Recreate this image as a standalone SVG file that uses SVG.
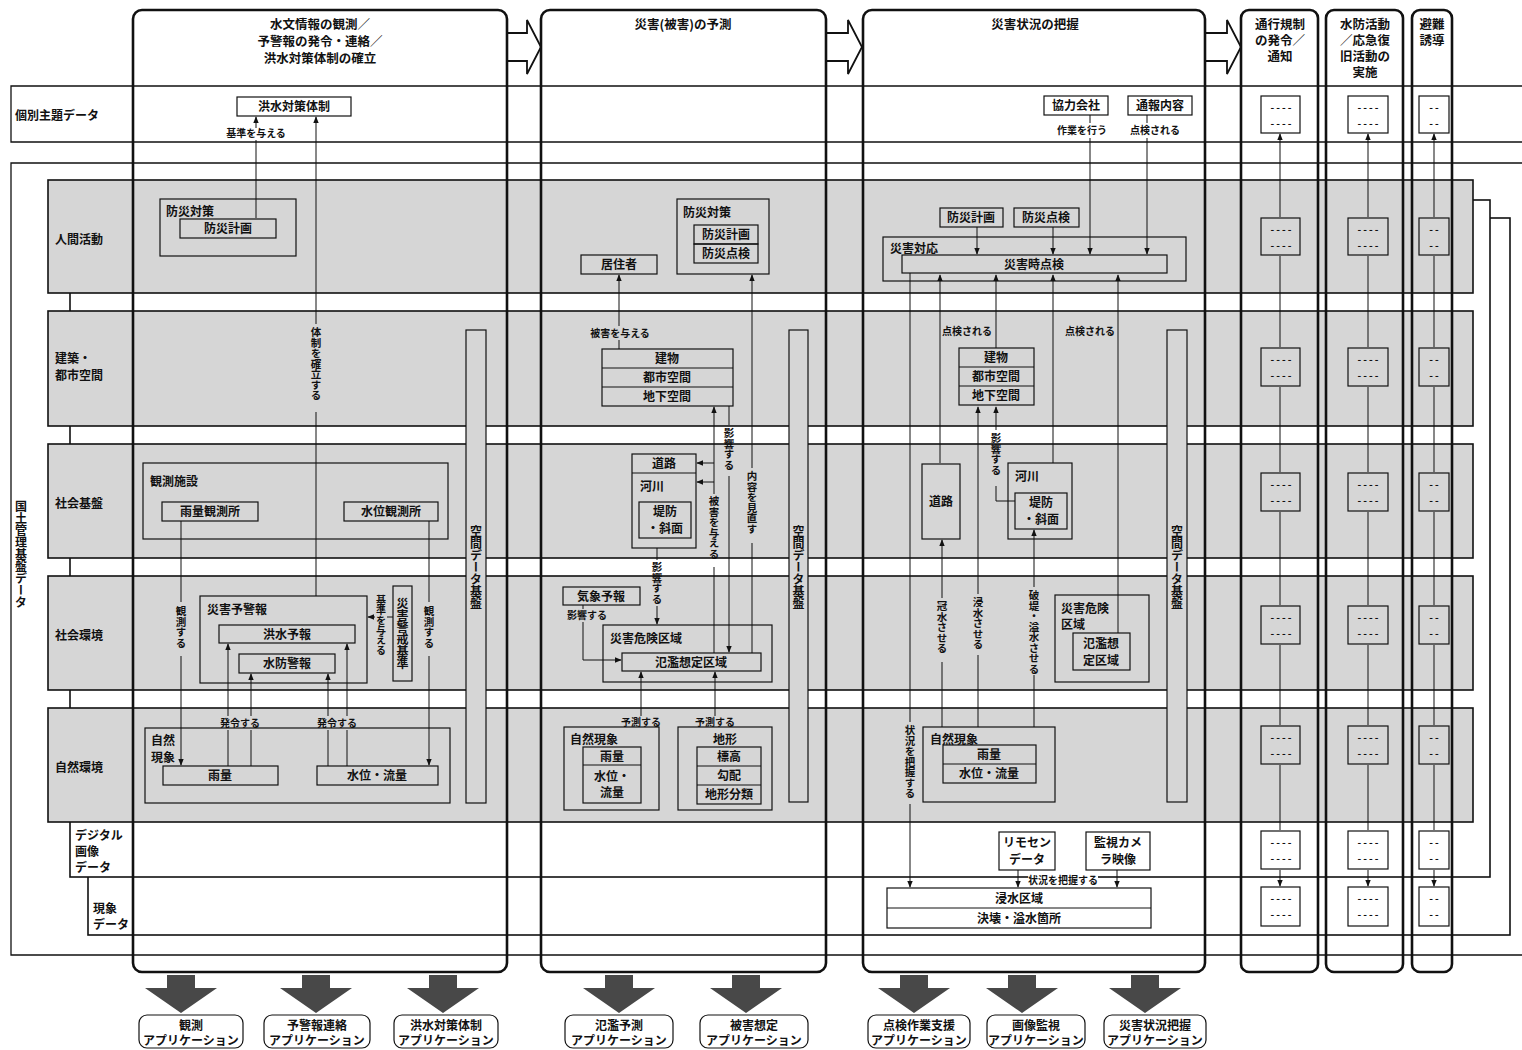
<svg xmlns="http://www.w3.org/2000/svg" width="1522" height="1050" viewBox="0 0 1522 1050">
<defs>
<marker id="ah" viewBox="0 0 10 10" refX="9" refY="5" markerWidth="7" markerHeight="7" orient="auto-start-reverse" markerUnits="userSpaceOnUse">
<path d="M0,1 L10,5 L0,9 Z" fill="#111"/>
</marker>
<style>
text{font-family:"Noto Sans CJK JP","Noto Sans CJK SC",sans-serif;font-weight:700;fill:#111;}
.t{font-size:12px;text-anchor:middle}
.l{font-size:10px;text-anchor:middle}
.s{font-size:12px}
.h{font-size:12.5px;text-anchor:middle}
.v{writing-mode:vertical-rl;font-size:10.5px}
.vb{writing-mode:vertical-rl;font-size:12px}
.d{font-size:10px;text-anchor:middle;letter-spacing:2px}
.box{fill:none;stroke:#111;stroke-width:1.2}
.wbox{fill:#fff;stroke:#111;stroke-width:1.2}
.band{fill:#d6d6d6;stroke:#111;stroke-width:1.6}
.col{fill:none;stroke:#111;stroke-width:2.6}
.frame{fill:none;stroke:#111;stroke-width:1.3}
.layer{fill:#fff;stroke:#111;stroke-width:1.6}
.sdi{fill:#d6d6d6;stroke:#111;stroke-width:1.2}
.c{fill:none;stroke:#111;stroke-width:1}
.a{marker-end:url(#ah)}
.aa{marker-start:url(#ah);marker-end:url(#ah)}
.big{fill:#fff;stroke:#111;stroke-width:1.8}
.app{fill:#484848}
</style>
</defs>
<rect x="0" y="0" width="1522" height="1050" fill="#fff"/>

<!-- frame lines -->
<g id="frames">
<path class="frame" d="M1522,86 H11 V142 H1522"/>
<path class="frame" d="M1522,163 H11 V955 H1522"/>
<rect class="layer" x="88" y="218" width="1422" height="717"/>
<rect class="layer" x="70" y="200" width="1420" height="677"/>
<rect class="band" x="48" y="180" width="1425" height="113"/>
<rect class="band" x="48" y="311" width="1425" height="115"/>
<rect class="band" x="48" y="444" width="1425" height="114"/>
<rect class="band" x="48" y="576" width="1425" height="114"/>
<rect class="band" x="48" y="708" width="1425" height="114"/>
</g>

<g id="row-labels">
<text class="s" x="15" y="120">個別主題データ</text>
<text class="s" x="55" y="244">人間活動</text>
<text class="s" x="55" y="363">建築・</text>
<text class="s" x="55" y="380">都市空間</text>
<text class="s" x="55" y="508">社会基盤</text>
<text class="s" x="55" y="640">社会環境</text>
<text class="s" x="55" y="772">自然環境</text>
<text class="s" x="75" y="840">デジタル</text>
<text class="s" x="75" y="856">画像</text>
<text class="s" x="75" y="872">データ</text>
<text class="s" x="93" y="913">現象</text>
<text class="s" x="93" y="929">データ</text>
<text class="vb" x="21" y="500">国土管理基盤データ</text>
</g>

<!-- header arrows -->
<g id="phase-arrows">
<polygon class="big" points="507,33 527,33 527,20 541,47 527,74 527,61 507,61"/>
<polygon class="big" points="826,33 848,33 848,20 862,47 848,74 848,61 826,61"/>
<polygon class="big" points="1205,33 1227,33 1227,20 1241,47 1227,74 1227,61 1205,61"/>
</g>

<!-- Column 1 -->
<g id="c1-kozui-taisei"><rect class="box" x="237" y="97" width="114" height="19"/><text class="t" x="294" y="111">洪水対策体制</text></g>
<g id="c1-bousai-taisaku"><rect class="box" x="160" y="199" width="136" height="57"/><text class="s" x="166" y="216">防災対策</text><rect class="box" x="180" y="219" width="96" height="19"/><text class="t" x="228" y="233">防災計画</text></g>
<g id="c1-kansoku-shisetsu"><rect class="box" x="143" y="463" width="305" height="76"/><text class="s" x="150" y="486">観測施設</text>
<rect class="box" x="162" y="502" width="96" height="19"/><text class="t" x="210" y="516">雨量観測所</text>
<rect class="box" x="344" y="502" width="94" height="19"/><text class="t" x="391" y="516">水位観測所</text></g>
<g id="c1-saigai-yokeiho"><rect class="box" x="200" y="596" width="167" height="87"/><text class="s" x="207" y="614">災害予警報</text>
<rect class="box" x="219" y="625" width="136" height="18"/><text class="t" x="287" y="639">洪水予報</text>
<rect class="box" x="239" y="654" width="96" height="19"/><text class="t" x="287" y="668">水防警報</text></g>
<g id="c1-keikai-kijun"><rect class="box" x="393" y="586" width="19" height="95"/><text class="vb" x="402.5" y="597">災害警戒基準</text></g>
<g id="c1-shizen-gensho"><rect class="box" x="145" y="728" width="305" height="75"/><text class="s" x="151" y="745">自然</text><text class="s" x="151" y="762">現象</text>
<rect class="box" x="163" y="766" width="115" height="19"/><text class="t" x="220" y="780">雨量</text>
<rect class="box" x="317" y="766" width="121" height="19"/><text class="t" x="377" y="780">水位・流量</text></g>
<g id="c1-sdi"><rect class="sdi" x="466" y="330" width="20" height="473"/><text class="vb" x="476" y="525">空間データ基盤</text></g>

<!-- Column 2 -->
<g id="c2-bousai-taisaku"><rect class="box" x="677" y="199" width="92" height="75"/><text class="s" x="683" y="217">防災対策</text>
<rect class="box" x="694" y="225" width="64" height="19"/><text class="t" x="726" y="239">防災計画</text>
<rect class="box" x="694" y="244" width="64" height="19"/><text class="t" x="726" y="258">防災点検</text></g>
<g id="c2-kyojusha"><rect class="box" x="581" y="255" width="76" height="19"/><text class="t" x="619" y="269">居住者</text></g>
<g id="c2-tatemono"><rect class="box" x="602" y="349" width="131" height="57"/><path class="c" d="M602,368 H733 M602,387 H733"/>
<text class="t" x="667" y="363">建物</text><text class="t" x="667" y="382">都市空間</text><text class="t" x="667" y="401">地下空間</text></g>
<g id="c2-doro-kasen"><rect class="box" x="632" y="454" width="64" height="94"/><path class="c" d="M632,473 H696"/>
<text class="t" x="664" y="468">道路</text><text class="s" x="640" y="491">河川</text>
<rect class="box" x="639" y="502" width="52" height="36"/><text class="t" x="665" y="516">堤防</text><text class="t" x="665" y="533">・斜面</text></g>
<g id="c2-kisho-yoho"><rect class="box" x="563" y="587" width="77" height="18"/><text class="t" x="601" y="601">気象予報</text></g>
<g id="c2-kiken-kuiki"><rect class="box" x="603" y="625" width="169" height="57"/><text class="s" x="610" y="643">災害危険区域</text>
<rect class="box" x="622" y="653" width="139" height="18"/><text class="t" x="691" y="667">氾濫想定区域</text></g>
<g id="c2-shizen-gensho"><rect class="box" x="564" y="727" width="95" height="83"/><text class="s" x="570" y="744">自然現象</text>
<rect class="box" x="583" y="747" width="58" height="56"/><path class="c" d="M583,765 H641"/>
<text class="t" x="612" y="761">雨量</text><text class="t" x="612" y="781">水位・</text><text class="t" x="612" y="797">流量</text></g>
<g id="c2-chikei"><rect class="box" x="678" y="727" width="94" height="83"/><text class="t" x="725" y="744">地形</text>
<rect class="box" x="697" y="747" width="64" height="57"/><path class="c" d="M697,766 H761 M697,785 H761"/>
<text class="t" x="729" y="761">標高</text><text class="t" x="729" y="780">勾配</text><text class="t" x="729" y="799">地形分類</text></g>
<g id="c2-sdi"><rect class="sdi" x="789" y="330" width="19" height="472"/><text class="vb" x="798.5" y="525">空間データ基盤</text></g>

<!-- Column 3 -->
<g id="c3-kyoryoku"><rect class="box" x="1044" y="96" width="64" height="19"/><text class="t" x="1076" y="110">協力会社</text></g>
<g id="c3-tsuho"><rect class="box" x="1128" y="96" width="64" height="19"/><text class="t" x="1160" y="110">通報内容</text></g>
<g id="c3-bousai-keikaku"><rect class="box" x="940" y="208" width="63" height="19"/><text class="t" x="971" y="222">防災計画</text></g>
<g id="c3-bousai-tenken"><rect class="box" x="1014" y="208" width="65" height="19"/><text class="t" x="1046" y="222">防災点検</text></g>
<g id="c3-saigai-taio"><rect class="box" x="883" y="237" width="303" height="44"/><text class="s" x="890" y="253">災害対応</text>
<rect class="box" x="902" y="255" width="265" height="18"/><text class="t" x="1034" y="269">災害時点検</text></g>
<g id="c3-tatemono"><rect class="box" x="959" y="348" width="75" height="57"/><path class="c" d="M959,367 H1034 M959,386 H1034"/>
<text class="t" x="996" y="362">建物</text><text class="t" x="996" y="381">都市空間</text><text class="t" x="996" y="400">地下空間</text></g>
<g id="c3-doro"><rect class="box" x="922" y="464" width="38" height="75"/><text class="t" x="941" y="506">道路</text></g>
<g id="c3-kasen"><rect class="box" x="1008" y="463" width="64" height="76"/><text class="s" x="1015" y="481">河川</text>
<rect class="box" x="1015" y="493" width="52" height="36"/><text class="t" x="1041" y="507">堤防</text><text class="t" x="1041" y="524">・斜面</text></g>
<g id="c3-kiken-kuiki"><rect class="box" x="1055" y="595" width="94" height="87"/><text class="s" x="1061" y="613">災害危険</text><text class="s" x="1061" y="629">区域</text>
<rect class="box" x="1073" y="633" width="57" height="37"/><text class="t" x="1101" y="648">氾濫想</text><text class="t" x="1101" y="665">定区域</text></g>
<g id="c3-shizen-gensho"><rect class="box" x="923" y="727" width="132" height="75"/><text class="s" x="930" y="744">自然現象</text>
<rect class="box" x="943" y="745" width="93" height="38"/><path class="c" d="M943,764 H1036"/>
<text class="t" x="989" y="759">雨量</text><text class="t" x="989" y="778">水位・流量</text></g>
<g id="c3-sdi"><rect class="sdi" x="1167" y="330" width="20" height="472"/><text class="vb" x="1177" y="525">空間データ基盤</text></g>
<g id="c3-rimosen"><rect class="box" x="999" y="832" width="56" height="38"/><text class="t" x="1027" y="847">リモセン</text><text class="t" x="1027" y="864">データ</text></g>
<g id="c3-kanshi"><rect class="box" x="1086" y="832" width="64" height="38"/><text class="t" x="1118" y="847">監視カメ</text><text class="t" x="1118" y="864">ラ映像</text></g>
<g id="c3-shinsui"><rect class="box" x="887" y="888" width="264" height="40"/><path class="c" d="M887,908 H1151"/>
<text class="t" x="1019" y="903">浸水区域</text><text class="t" x="1019" y="923">決壊・溢水箇所</text></g>

<!-- Columns 4-6 placeholder boxes -->
<g id="c4-boxes">
<rect class="box" x="1261" y="96" width="39" height="37"/><text class="d" x="1282" y="111">----</text><text class="d" x="1282" y="127">----</text>
<rect class="box" x="1261" y="218" width="39" height="37"/><text class="d" x="1282" y="233">----</text><text class="d" x="1282" y="249">----</text>
<rect class="box" x="1261" y="348" width="39" height="38"/><text class="d" x="1282" y="363">----</text><text class="d" x="1282" y="379">----</text>
<rect class="box" x="1261" y="473" width="39" height="38"/><text class="d" x="1282" y="488">----</text><text class="d" x="1282" y="504">----</text>
<rect class="box" x="1261" y="606" width="39" height="38"/><text class="d" x="1282" y="621">----</text><text class="d" x="1282" y="637">----</text>
<rect class="box" x="1261" y="726" width="39" height="38"/><text class="d" x="1282" y="741">----</text><text class="d" x="1282" y="757">----</text>
<rect class="box" x="1261" y="831" width="39" height="38"/><text class="d" x="1282" y="846">----</text><text class="d" x="1282" y="862">----</text>
<rect class="box" x="1261" y="887" width="39" height="39"/><text class="d" x="1282" y="902">----</text><text class="d" x="1282" y="918">----</text>
</g>
<g id="c5-boxes">
<rect class="box" x="1348" y="96" width="40" height="37"/><text class="d" x="1369" y="111">----</text><text class="d" x="1369" y="127">----</text>
<rect class="box" x="1348" y="218" width="40" height="37"/><text class="d" x="1369" y="233">----</text><text class="d" x="1369" y="249">----</text>
<rect class="box" x="1348" y="348" width="40" height="38"/><text class="d" x="1369" y="363">----</text><text class="d" x="1369" y="379">----</text>
<rect class="box" x="1348" y="473" width="40" height="38"/><text class="d" x="1369" y="488">----</text><text class="d" x="1369" y="504">----</text>
<rect class="box" x="1348" y="606" width="40" height="38"/><text class="d" x="1369" y="621">----</text><text class="d" x="1369" y="637">----</text>
<rect class="box" x="1348" y="726" width="40" height="38"/><text class="d" x="1369" y="741">----</text><text class="d" x="1369" y="757">----</text>
<rect class="box" x="1348" y="831" width="40" height="38"/><text class="d" x="1369" y="846">----</text><text class="d" x="1369" y="862">----</text>
<rect class="box" x="1348" y="887" width="40" height="39"/><text class="d" x="1369" y="902">----</text><text class="d" x="1369" y="918">----</text>
</g>
<g id="c6-boxes">
<rect class="box" x="1419" y="96" width="30" height="37"/><text class="d" x="1435" y="111">--</text><text class="d" x="1435" y="127">--</text>
<rect class="box" x="1419" y="218" width="30" height="37"/><text class="d" x="1435" y="233">--</text><text class="d" x="1435" y="249">--</text>
<rect class="box" x="1419" y="348" width="30" height="38"/><text class="d" x="1435" y="363">--</text><text class="d" x="1435" y="379">--</text>
<rect class="box" x="1419" y="473" width="30" height="38"/><text class="d" x="1435" y="488">--</text><text class="d" x="1435" y="504">--</text>
<rect class="box" x="1419" y="606" width="30" height="38"/><text class="d" x="1435" y="621">--</text><text class="d" x="1435" y="637">--</text>
<rect class="box" x="1419" y="726" width="30" height="38"/><text class="d" x="1435" y="741">--</text><text class="d" x="1435" y="757">--</text>
<rect class="box" x="1419" y="831" width="30" height="38"/><text class="d" x="1435" y="846">--</text><text class="d" x="1435" y="862">--</text>
<rect class="box" x="1419" y="887" width="30" height="39"/><text class="d" x="1435" y="902">--</text><text class="d" x="1435" y="918">--</text>
</g>

<!-- Connectors -->
<g id="connectors">
<!-- col1 -->
<path class="c" d="M256,218 V140"/><path class="c a" d="M256,128 V117"/>
<text class="l" x="256" y="137">基準を与える</text>
<path class="c" d="M316,596 V412"/><path class="c a" d="M316,324 V117"/>
<text class="v" x="316" y="327">体制を確立する</text>
<path class="c" d="M181,521 V602"/><path class="c a" d="M181,656 V765"/>
<text class="v" x="181" y="606">観測する</text>
<path class="c" d="M429,521 V602"/><path class="c a" d="M429,656 V765"/>
<text class="v" x="429" y="606">観測する</text>
<path class="c" d="M228,766 V730"/><path class="c a" d="M228,716 V644"/>
<path class="c" d="M251,766 V730"/><path class="c a" d="M251,716 V674"/>
<path class="c" d="M328,766 V730"/><path class="c a" d="M328,716 V674"/>
<path class="c" d="M347,766 V730"/><path class="c a" d="M347,716 V644"/>
<text class="l" x="240" y="727">発令する</text>
<text class="l" x="337" y="727">発令する</text>
<path class="c" d="M393,617 H387"/><path class="c a" d="M375,617 H368"/>
<text class="v" x="381" y="595" style="font-size:10px">基準を与える</text>
<!-- col2 -->
<path class="c" d="M619,349 V340"/><path class="c a" d="M619,326 V275"/>
<text class="l" x="620" y="337">被害を与える</text>
<path class="c" d="M752,653 V543"/><path class="c a" d="M752,468 V275"/>
<text class="v" x="752" y="471">内容を見直す</text>
<path class="c" d="M714,653 V567"/><path class="c a" d="M714,494 V407"/>
<path class="c a" d="M714,463 H697"/><path class="c a" d="M714,482 H697"/>
<text class="v" x="714" y="496">被害を与える</text>
<path class="c" d="M729,406 V425"/><path class="c a" d="M729,476 V652"/>
<text class="v" x="729" y="428">影響する</text>
<path class="c" d="M657,548 V560"/><path class="c a" d="M657,606 V624"/>
<text class="v" x="657" y="562">影響する</text>
<path class="c" d="M583,605 V609"/><path class="c a" d="M583,622 V660 H621"/>
<text class="l" x="587" y="619">影響する</text>
<path class="c a" d="M641,716 V672"/>
<text class="l" x="641" y="726">予測する</text>
<path class="c a" d="M715,716 V672"/>
<text class="l" x="715" y="726">予測する</text>
<!-- col3 -->
<path class="c a" d="M977,227 V254"/>
<path class="c a" d="M1053,227 V254"/>
<path class="c" d="M1090,115 V123"/><path class="c a" d="M1090,138 V254"/>
<text class="l" x="1082" y="134">作業を行う</text>
<path class="c" d="M1147,115 V123"/><path class="c a" d="M1147,138 V254"/>
<text class="l" x="1155" y="134">点検される</text>
<path class="c" d="M910,273 V722"/><path class="c a" d="M910,804 V887"/>
<text class="v" x="910" y="725">状況を把握する</text>
<path class="c a" d="M940,463 V275"/>
<text class="l" x="967" y="335">点検される</text>
<path class="c a" d="M996,348 V275"/>
<path class="c a" d="M1053,463 V275"/>
<path class="c a" d="M1118,633 V275"/>
<text class="l" x="1090" y="335">点検される</text>
<path class="c" d="M978,727 V655"/><path class="c a" d="M978,594 V407"/>
<text class="v" x="978" y="597">浸水させる</text>
<path class="c" d="M1015,501 H996 V486"/><path class="c a" d="M996,430 V407"/>
<text class="v" x="996" y="433">影響する</text>
<path class="c" d="M942,727 V662"/><path class="c a" d="M942,598 V540"/>
<text class="v" x="942" y="601">冠水させる</text>
<path class="c" d="M1034,727 V675"/><path class="c a" d="M1034,587 V530"/>
<text class="v" x="1034" y="590">破堤・溢水させる</text>
<path class="c a" d="M1018,870 V887"/>
<path class="c a" d="M1117,870 V887"/>
<rect x="1028" y="874" width="70" height="12" fill="#fff"/>
<text class="l" x="1063" y="884">状況を把握する</text>
<!-- cols 4-6 -->
<path class="c aa" d="M1280,134 V217 M1280,256 V347 M1280,387 V472 M1280,512 V605 M1280,645 V725 M1280,765 V830 M1280,870 V886"/>
<path class="c aa" d="M1368,134 V217 M1368,256 V347 M1368,387 V472 M1368,512 V605 M1368,645 V725 M1368,765 V830 M1368,870 V886"/>
<path class="c aa" d="M1434,134 V217 M1434,256 V347 M1434,387 V472 M1434,512 V605 M1434,645 V725 M1434,765 V830 M1434,870 V886"/>
</g>

<!-- Column outlines and titles -->
<g id="col1"><rect class="col" x="133" y="10" width="374" height="962" rx="9"/>
<text class="h" x="320" y="29">水文情報の観測／</text><text class="h" x="320" y="46">予警報の発令・連絡／</text><text class="h" x="320" y="63">洪水対策体制の確立</text></g>
<g id="col2"><rect class="col" x="541" y="10" width="285" height="962" rx="9"/>
<text class="h" x="683" y="29">災害(被害)の予測</text></g>
<g id="col3"><rect class="col" x="863" y="10" width="342" height="962" rx="9"/>
<text class="h" x="1035" y="29">災害状況の把握</text></g>
<g id="col4"><rect class="col" x="1241" y="10" width="77" height="962" rx="8"/>
<text class="h" x="1280" y="29">通行規制</text><text class="h" x="1280" y="45">の発令／</text><text class="h" x="1280" y="61">通知</text></g>
<g id="col5"><rect class="col" x="1326" y="10" width="77" height="962" rx="8"/>
<text class="h" x="1365" y="29">水防活動</text><text class="h" x="1365" y="45">／応急復</text><text class="h" x="1365" y="61">旧活動の</text><text class="h" x="1365" y="77">実施</text></g>
<g id="col6"><rect class="col" x="1412" y="10" width="40" height="962" rx="8"/>
<text class="h" x="1432" y="29">避難</text><text class="h" x="1432" y="45">誘導</text></g>

<!-- Applications -->
<g id="applications">
<path class="app" d="M167,975 H195 V988 H217 L181,1013 L145,988 H167 Z"/>
<path class="app" d="M302,975 H330 V988 H352 L316,1013 L280,988 H302 Z"/>
<path class="app" d="M429,975 H457 V988 H479 L443,1013 L407,988 H429 Z"/>
<path class="app" d="M605,975 H633 V988 H655 L619,1013 L583,988 H605 Z"/>
<path class="app" d="M732,975 H760 V988 H782 L746,1013 L710,988 H732 Z"/>
<path class="app" d="M900,975 H928 V988 H950 L914,1013 L878,988 H900 Z"/>
<path class="app" d="M1008,975 H1036 V988 H1058 L1022,1013 L986,988 H1008 Z"/>
<path class="app" d="M1131,975 H1159 V988 H1181 L1145,1013 L1109,988 H1131 Z"/>
</g>
<g id="app-kansoku"><rect class="wbox" x="139" y="1015" width="104" height="33" rx="8"/><text class="t" x="191" y="1030">観測</text><text class="t" x="191" y="1045">アプリケーション</text></g>
<g id="app-yokeiho"><rect class="wbox" x="264" y="1015" width="106" height="33" rx="8"/><text class="t" x="317" y="1030">予警報連絡</text><text class="t" x="317" y="1045">アプリケーション</text></g>
<g id="app-kozui"><rect class="wbox" x="394" y="1015" width="104" height="33" rx="8"/><text class="t" x="446" y="1030">洪水対策体制</text><text class="t" x="446" y="1045">アプリケーション</text></g>
<g id="app-hanran"><rect class="wbox" x="565" y="1015" width="108" height="33" rx="8"/><text class="t" x="619" y="1030">氾濫予測</text><text class="t" x="619" y="1045">アプリケーション</text></g>
<g id="app-higai"><rect class="wbox" x="700" y="1015" width="108" height="33" rx="8"/><text class="t" x="754" y="1030">被害想定</text><text class="t" x="754" y="1045">アプリケーション</text></g>
<g id="app-tenken"><rect class="wbox" x="868" y="1015" width="102" height="33" rx="8"/><text class="t" x="919" y="1030">点検作業支援</text><text class="t" x="919" y="1045">アプリケーション</text></g>
<g id="app-gazo"><rect class="wbox" x="987" y="1015" width="98" height="33" rx="8"/><text class="t" x="1036" y="1030">画像監視</text><text class="t" x="1036" y="1045">アプリケーション</text></g>
<g id="app-jokyo"><rect class="wbox" x="1104" y="1015" width="102" height="33" rx="8"/><text class="t" x="1155" y="1030">災害状況把握</text><text class="t" x="1155" y="1045">アプリケーション</text></g>
</svg>
